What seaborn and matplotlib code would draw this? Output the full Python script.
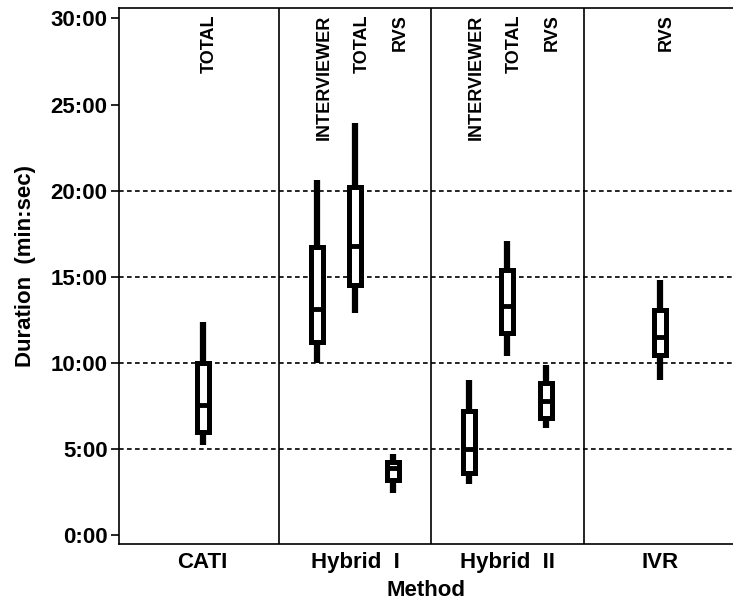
import numpy as np
import pandas as pd
import matplotlib
matplotlib.use("Agg")
import matplotlib.pyplot as plt
import seaborn as sns

# ---- data (minutes) ----
methods = ["CATI", "Hybrid  I", "Hybrid  II", "IVR"]
box_method = ["CATI", "Hybrid  I", "Hybrid  I", "Hybrid  I",
              "Hybrid  II", "Hybrid  II", "Hybrid  II", "IVR"]
box_component = ["TOTAL", "INTERVIEWER", "TOTAL", "RVS",
                 "INTERVIEWER", "TOTAL", "RVS", "RVS"]
low_whisker = [5.25, 10.0, 12.9, 2.45, 2.95, 10.4, 6.2, 9.0]
lower_quartile = [6.0, 11.2, 14.5, 3.2, 3.6, 11.75, 6.8, 10.45]
median = [7.55, 13.1, 16.8, 3.9, 5.0, 13.3, 7.8, 11.5]
upper_quartile = [10.0, 16.7, 20.2, 4.25, 7.2, 15.4, 8.85, 13.05]
high_whisker = [12.4, 20.6, 23.9, 4.7, 9.0, 17.1, 9.9, 14.8]
y_ticks = [0, 5, 10, 15, 20, 25, 30]
y_tick_labels = ["0:00", "5:00", "10:00", "15:00", "20:00", "25:00", "30:00"]

# ---- positions: method index + component offset ----
offsets = {"INTERVIEWER": -0.25, "TOTAL": 0.0, "RVS": 0.25}
positions = []
for m, c in zip(box_method, box_component):
    n_in_method = box_method.count(m)
    off = offsets[c] if n_in_method > 1 else 0.0
    positions.append(methods.index(m) + off)

rows = []
for i, p in enumerate(positions):
    for v in (low_whisker[i], lower_quartile[i], median[i],
              upper_quartile[i], high_whisker[i]):
        rows.append({"pos": p, "minutes": v})
df = pd.DataFrame(rows)

sns.set_theme(style="white")
plt.rcParams["font.family"] = ["Liberation Sans", "DejaVu Sans"]
plt.rcParams["font.weight"] = "bold"
plt.rcParams["text.color"] = "black"
plt.rcParams["axes.labelcolor"] = "black"
plt.rcParams["xtick.color"] = "black"
plt.rcParams["ytick.color"] = "black"

fig = plt.figure(figsize=(7.33, 6.04), dpi=100)
ax = fig.add_axes([0.162, 0.0993, 0.838, 0.8867])

sns.boxplot(data=df, x="pos", y="minutes", native_scale=True, width=0.315,
            color="white", linecolor="black", linewidth=3.6,
            whis=(0, 100), showcaps=False, fliersize=0,
            whiskerprops=dict(linewidth=4.5, solid_capstyle="butt"),
            medianprops=dict(linewidth=3.5, solid_capstyle="butt"),
            ax=ax, zorder=3)

for g in [5, 10, 15, 20]:
    ax.axhline(g, color="black", linestyle=(0, (2.8, 2.0)), linewidth=1.2, zorder=1)
for d in [0.5, 1.5, 2.5]:
    ax.axvline(d, color="black", linewidth=1.2, zorder=1)

for p, c in zip(positions, box_component):
    ax.text(p + 0.045, 30.25, c, rotation=90, ha="center", va="top",
            fontsize=13, fontweight="bold", color="black")

ax.set_xlim(-0.55, 3.48)
ax.set_ylim(-0.52, 30.58)
ax.set_xticks(range(len(methods)))
ax.set_xticklabels(methods, fontsize=16, fontweight="bold")
ax.set_yticks(y_ticks)
ax.set_yticklabels(y_tick_labels, fontsize=16, fontweight="bold")
ax.tick_params(axis="y", length=6, width=1.2, color="black", pad=2, left=True)
ax.tick_params(axis="x", length=0, pad=6)
ax.set_xlabel("Method", fontsize=16, fontweight="bold", labelpad=5)
ax.set_ylabel("Duration  (min:sec)", fontsize=16, fontweight="bold")
ax.yaxis.set_label_coords(-0.135, 0.52)

for s in ["left", "bottom", "top"]:
    ax.spines[s].set_color("black")
    ax.spines[s].set_linewidth(1.2)
ax.spines["right"].set_visible(False)
ax.grid(False)

fig.savefig("out.png", dpi=100)
